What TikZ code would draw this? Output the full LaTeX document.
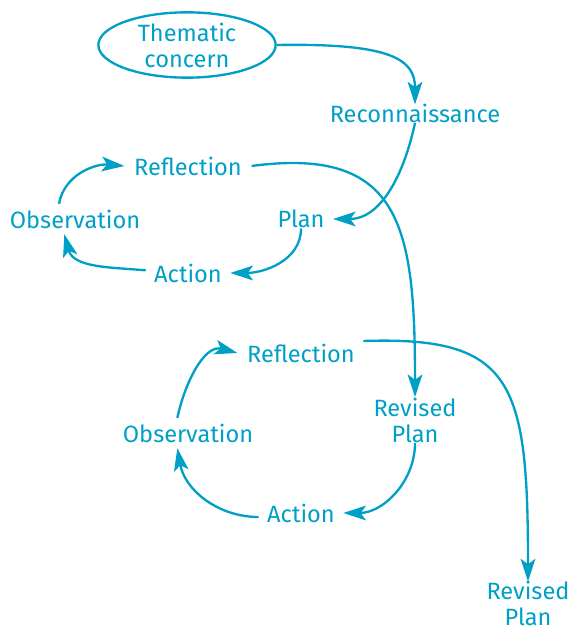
\documentclass[tikz,border=0pt]{standalone}
\usepackage{fontspec}
\setmainfont{Fira Sans}
\usetikzlibrary{arrows.meta,shapes.geometric}
\definecolor{cycleblue}{RGB}{0,160,198}
\tikzset{every picture/.style={line width=1.75pt}}

\begin{document}
\begin{tikzpicture}[x=0.75pt,y=0.75pt,yscale=-1,xscale=1,
  lbl/.style={text=cycleblue, inner sep=1.5pt, align=center, font=\fontsize{17.7}{19.5}\selectfont},
  flow/.style={draw=cycleblue, -{Stealth[length=17pt,width=11pt,inset=4pt]}}]
\useasboundingbox (0,0) rectangle (571,630);

%Shape: Ellipse [id:theme]
\node [lbl, draw=cycleblue, ellipse, inner sep=0pt, minimum width=133pt, minimum height=49pt] (theme) at (187,45) {Thematic\\concern};

% Text Node
\node [lbl] (recon) at (415,113) {Reconnaissance};
% Text Node
\node [lbl] (refla) at (188,166) {Reflection};
% Text Node
\node [lbl] (obsa) at (75,219) {Observation};
% Text Node
\node [lbl] (plana) at (301,219) {Plan};
% Text Node
\node [lbl] (acta) at (188,273) {Action};
% Text Node
\node [lbl] (reflb) at (301,353) {Reflection};
% Text Node
\node [lbl] (revplana) at (415,420) {Revised\\Plan};
% Text Node
\node [lbl] (obsb) at (188,433) {Observation};
% Text Node
\node [lbl] (actb) at (301,513) {Action};
% Text Node
\node [lbl] (revplanb) at (528,603) {Revised\\Plan};

%Curve Lines
\draw [flow] (theme.east) .. controls +(115,-2) and +(0,-45) .. ([yshift=3pt]recon.north);
\draw [flow] ([yshift=-2pt]recon.south) to [out=102, in=0] ([xshift=4pt]plana.east);
\draw [flow] ([yshift=-2pt]plana.south) to [out=90, in=0] ([xshift=4pt]acta.east);
\draw [flow] ([xshift=-4pt,yshift=-2pt]acta.west) to [out=185, in=75] ([xshift=-8pt,yshift=2pt]obsa.south);
\draw [flow] ([xshift=-12pt,yshift=-2pt]obsa.north) to [out=-80, in=185] ([xshift=-5pt]refla.west);
\draw [flow] ([xshift=5pt]refla.east) .. controls +(150,-20) and +(0,-170) .. ([yshift=2pt]revplana.north);
\draw [flow] ([yshift=-2pt]revplana.south) to [out=90, in=0] ([xshift=4pt]actb.east);
\draw [flow] ([xshift=-4pt,yshift=3pt]actb.west) to [out=180, in=80] ([xshift=-8pt,yshift=2pt]obsb.south);
\draw [flow] ([xshift=-8pt,yshift=-2pt]obsb.north) to [out=-78, in=195] ([xshift=-5pt]reflb.west);
\draw [flow] ([xshift=4pt,yshift=-9pt]reflb.east) .. controls +(150,-5) and +(0,-200) .. ([yshift=3pt]revplanb.north);

\end{tikzpicture}
\end{document}
